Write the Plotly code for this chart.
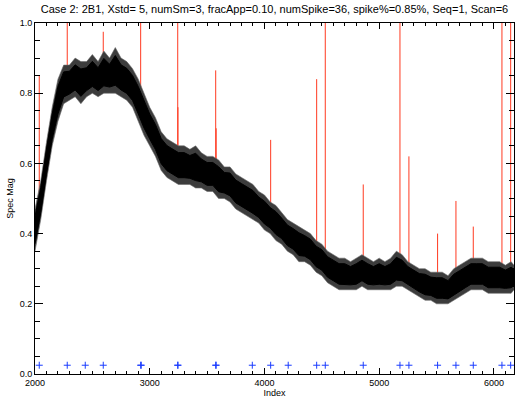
import numpy as np
import plotly.graph_objects as go

# ---- data ----
idx_grid = [2000, 2050, 2100, 2150, 2200, 2250, 2300, 2350, 2400, 2450, 2500, 2550, 2600, 2650,
            2700, 2750, 2800, 2850, 2900, 2950, 3000, 3050, 3100, 3150, 3200, 3250, 3300, 3350,
            3400, 3450, 3500, 3550, 3600, 3650, 3700, 3750, 3800, 3850, 3900, 3950, 4000, 4050,
            4100, 4150, 4200, 4250, 4300, 4350, 4400, 4450, 4500, 4550, 4600, 4650, 4700, 4750,
            4800, 4850, 4900, 4950, 5000, 5050, 5100, 5150, 5200, 5250, 5300, 5350, 5400, 5450,
            5500, 5550, 5600, 5650, 5700, 5750, 5800, 5850, 5900, 5950, 6000, 6050, 6100, 6150, 6175]
mag_upper = [0.47, 0.55, 0.66, 0.76, 0.84, 0.88, 0.88, 0.90, 0.89, 0.89, 0.91, 0.89, 0.92, 0.90,
             0.93, 0.90, 0.89, 0.87, 0.84, 0.80, 0.76, 0.73, 0.69, 0.67, 0.66, 0.65, 0.65, 0.64,
             0.65, 0.63, 0.62, 0.62, 0.61, 0.59, 0.59, 0.57, 0.56, 0.55, 0.54, 0.52, 0.51, 0.49,
             0.48, 0.46, 0.44, 0.43, 0.42, 0.41, 0.40, 0.38, 0.37, 0.35, 0.34, 0.33, 0.33, 0.32,
             0.33, 0.34, 0.33, 0.32, 0.33, 0.32, 0.33, 0.35, 0.34, 0.32, 0.31, 0.30, 0.30, 0.29,
             0.29, 0.29, 0.28, 0.30, 0.31, 0.32, 0.33, 0.33, 0.33, 0.32, 0.32, 0.32, 0.31, 0.32, 0.31]
mag_lower = [0.35, 0.44, 0.55, 0.65, 0.72, 0.77, 0.78, 0.79, 0.77, 0.79, 0.80, 0.79, 0.80, 0.80,
             0.80, 0.79, 0.78, 0.76, 0.72, 0.68, 0.65, 0.62, 0.58, 0.56, 0.55, 0.54, 0.54, 0.54,
             0.53, 0.53, 0.52, 0.52, 0.50, 0.50, 0.49, 0.47, 0.46, 0.45, 0.44, 0.43, 0.41, 0.40,
             0.38, 0.37, 0.35, 0.34, 0.32, 0.32, 0.31, 0.29, 0.28, 0.26, 0.25, 0.24, 0.24, 0.24,
             0.24, 0.25, 0.24, 0.24, 0.24, 0.24, 0.24, 0.25, 0.25, 0.24, 0.23, 0.22, 0.21, 0.21,
             0.20, 0.20, 0.20, 0.21, 0.22, 0.23, 0.24, 0.24, 0.24, 0.23, 0.23, 0.23, 0.23, 0.23, 0.24]

spike_idx = [2037, 2281, 2438, 2595, 2921, 2926, 3244, 3246, 3575, 3579, 3894, 4054, 4207, 4455,
             4530, 4861, 5181, 5259, 5509, 5669, 5820, 6070, 6146]
spike_top = [0.85, 1.05, 0.80, 0.975, 1.05, 0.80, 1.05, 0.76, 0.865, 0.70, 0.50, 0.667, 0.40, 0.84,
             1.05, 0.54, 1.05, 0.62, 0.40, 0.493, 0.42, 1.05, 1.05]
marker_y = 0.025

title_text = ("Case 2: 2B1, Xstd= 5, numSm=3, fracApp=0.10, numSpike=36, "
              "spike%=0.85%, Seq=1, Scan=6")

# ---- figure ----
up = np.array(mag_upper)
lo = np.array(mag_lower)
center = (up + lo) / 2.0
core_up = list(center + 0.65 * (up - center))
core_lo = list(center - 0.65 * (center - lo))

sx, sy = [], []
for i, t in zip(spike_idx, spike_top):
    base = float(np.interp(i, idx_grid, center))
    sx += [i, i, None]
    sy += [base, t, None]

fig = go.Figure()
fig.add_trace(go.Scatter(x=sx, y=sy, mode="lines",
                         line=dict(color="#ff3a20", width=1), hoverinfo="skip"))
fig.add_trace(go.Scatter(x=idx_grid + idx_grid[::-1], y=mag_upper + mag_lower[::-1],
                         mode="lines", fill="toself", fillcolor="#3c3c3c",
                         line=dict(color="#6a6a6a", width=0.6), hoverinfo="skip"))
fig.add_trace(go.Scatter(x=idx_grid + idx_grid[::-1], y=core_up + core_lo[::-1],
                         mode="lines", fill="toself", fillcolor="black",
                         line=dict(color="black", width=1), hoverinfo="skip"))
fig.add_trace(go.Scatter(x=spike_idx, y=[marker_y] * len(spike_idx), mode="markers",
                         marker=dict(symbol="cross-thin", size=5, color="#1a3cff",
                                     line=dict(color="#1a3cff", width=1)),
                         hoverinfo="skip"))

font_family = "Liberation Sans, Arial, sans-serif"
fig.update_layout(
    width=530, height=402,
    margin=dict(l=35, r=16, t=23, b=28),
    paper_bgcolor="white", plot_bgcolor="white",
    showlegend=False,
    font=dict(family=font_family, size=9, color="black"),
    title=dict(text=title_text, x=0.5, xref="paper", y=1, yref="container",
               yanchor="top", pad=dict(t=5),
               font=dict(family=font_family, size=11, color="black")),
    xaxis=dict(range=[2000, 6175], tickvals=[2000, 3000, 4000, 5000, 6000],
               ticks="inside", ticklen=6, tickwidth=1, tickcolor="black",
               showline=True, linecolor="black", linewidth=1, mirror="ticks",
               showgrid=False, zeroline=False, automargin=False,
               minor=dict(dtick=100, tick0=2000, ticks="inside", ticklen=3,
                          tickcolor="black", showgrid=False),
               title=dict(text="Index", standoff=1, font=dict(size=9)),
               tickfont=dict(size=9)),
    yaxis=dict(range=[0, 1], tickvals=[0, 0.2, 0.4, 0.6, 0.8, 1.0],
               ticktext=["0.0", "0.2", "0.4", "0.6", "0.8", "1.0"],
               ticks="inside", ticklen=8, tickwidth=1, tickcolor="black",
               showline=True, linecolor="black", linewidth=1, mirror="ticks",
               showgrid=False, zeroline=False, automargin=False,
               minor=dict(dtick=0.05, tick0=0, ticks="inside", ticklen=5,
                          tickcolor="black", showgrid=False),
               title=dict(text="Spec Mag", standoff=4, font=dict(size=9)),
               tickfont=dict(size=9)),
)

fig.write_html("out.html")
